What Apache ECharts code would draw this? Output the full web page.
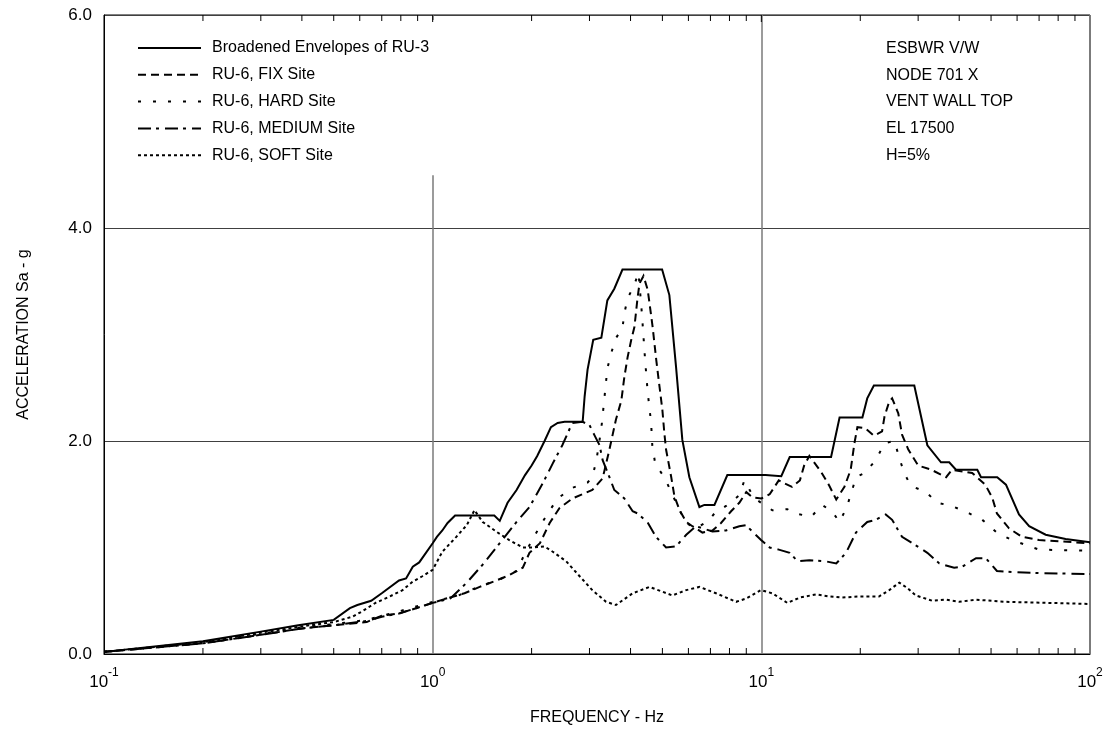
<!DOCTYPE html>
<html>
<head>
<meta charset="utf-8">
<script src="https://cdn.jsdelivr.net/npm/echarts@6/dist/echarts.min.js"></script>
<style>
html,body{margin:0;padding:0;background:#fff;}
#chart{width:1113px;height:734px;}
</style>
</head>
<body>
<div id="chart"></div>
<script>
// ---- data: [frequency Hz, acceleration g] ----
const seriesNames = ['Broadened Envelopes of RU-3','RU-6, FIX Site','RU-6, HARD Site','RU-6, MEDIUM Site','RU-6, SOFT Site'];

const envelopePts = [[0.1,0.02],[0.2,0.12],[0.3,0.21],[0.39,0.27],[0.5,0.32],[0.56,0.43],[0.59,0.46],[0.65,0.50],[0.70,0.57],[0.79,0.69],[0.83,0.71],[0.87,0.82],[0.91,0.86],[1.0,1.04],[1.03,1.10],[1.07,1.16],[1.11,1.23],[1.17,1.30],[1.54,1.30],[1.60,1.25],[1.69,1.42],[1.80,1.54],[1.91,1.68],[2.0,1.77],[2.08,1.86],[2.19,2.00],[2.29,2.13],[2.40,2.17],[2.52,2.18],[2.86,2.18],[2.90,2.42],[2.96,2.67],[3.08,2.95],[3.26,2.97],[3.40,3.32],[3.57,3.43],[3.78,3.61],[4.99,3.61],[5.25,3.37],[5.5,2.70],[5.75,2.01],[6.04,1.66],[6.48,1.38],[6.71,1.40],[7.2,1.40],[7.88,1.68],[10.3,1.68],[11.5,1.67],[12.2,1.85],[16.3,1.85],[17.3,2.22],[20.3,2.22],[21.0,2.40],[22.0,2.52],[29.2,2.52],[32.0,1.96],[35.2,1.80],[37.3,1.80],[39.1,1.73],[45.4,1.73],[46.6,1.66],[52.2,1.66],[55.5,1.59],[60.8,1.31],[65.3,1.20],[73.3,1.12],[84.3,1.08],[100,1.05]];

const fixPts = [[0.1,0.02],[0.2,0.10],[0.3,0.18],[0.4,0.24],[0.5,0.27],[0.63,0.30],[0.7,0.36],[0.79,0.38],[0.89,0.43],[1.0,0.48],[1.1,0.52],[1.25,0.57],[1.39,0.63],[1.56,0.69],[1.71,0.74],[1.88,0.81],[1.97,0.95],[2.12,1.04],[2.27,1.23],[2.43,1.37],[2.66,1.46],[3.06,1.54],[3.29,1.65],[3.45,1.92],[3.61,2.20],[3.75,2.38],[3.83,2.60],[3.92,2.79],[4.02,2.95],[4.11,3.07],[4.20,3.34],[4.26,3.48],[4.38,3.55],[4.51,3.42],[4.57,3.29],[4.67,3.07],[4.79,2.76],[4.90,2.51],[5.0,2.29],[5.07,2.07],[5.13,1.92],[5.32,1.66],[5.44,1.48],[5.64,1.35],[5.91,1.24],[6.17,1.20],[6.62,1.14],[7.10,1.16],[7.54,1.23],[8.09,1.34],[8.57,1.42],[9.0,1.52],[9.4,1.47],[10.0,1.46],[10.6,1.50],[11.3,1.63],[11.8,1.60],[12.4,1.57],[13.1,1.63],[13.5,1.77],[14.0,1.86],[15.2,1.71],[16.1,1.58],[16.9,1.45],[17.9,1.57],[18.7,1.73],[19.2,1.98],[19.6,2.13],[20.7,2.12],[22.0,2.05],[23.3,2.09],[23.7,2.23],[24.5,2.37],[25.0,2.40],[26.1,2.26],[26.8,2.06],[28.0,1.92],[30.0,1.77],[32.9,1.73],[36.5,1.66],[38.0,1.73],[43.8,1.70],[48.0,1.59],[50.4,1.47],[52.1,1.32],[56.7,1.18],[62.1,1.10],[70.0,1.07],[100,1.04]];

const hardPts = [[0.1,0.02],[0.2,0.11],[0.3,0.19],[0.4,0.25],[0.5,0.28],[0.63,0.32],[0.79,0.40],[1.0,0.49],[1.2,0.55],[1.4,0.64],[1.6,0.70],[1.8,0.78],[1.92,0.96],[2.12,1.20],[2.24,1.32],[2.40,1.46],[2.66,1.56],[2.96,1.61],[3.06,1.66],[3.15,1.82],[3.26,2.12],[3.33,2.40],[3.40,2.68],[3.49,2.82],[3.60,2.96],[3.78,3.06],[3.83,3.20],[3.92,3.34],[4.10,3.46],[4.23,3.58],[4.33,3.20],[4.43,2.76],[4.51,2.46],[4.62,2.17],[4.66,1.95],[4.76,1.78],[5.07,1.66],[5.32,1.52],[5.64,1.35],[5.90,1.23],[6.33,1.18],[6.9,1.25],[7.2,1.32],[7.81,1.39],[8.57,1.49],[8.88,1.63],[9.33,1.51],[9.66,1.45],[10.8,1.35],[12.0,1.36],[12.6,1.32],[14.2,1.29],[15.3,1.40],[16.4,1.34],[17.3,1.24],[18.2,1.38],[18.9,1.54],[19.4,1.66],[20.6,1.70],[22.3,1.82],[23.7,1.98],[25.4,2.00],[26.3,1.84],[27.2,1.70],[28.5,1.58],[31.7,1.52],[34.3,1.42],[38.0,1.39],[42.9,1.32],[47.0,1.26],[52.1,1.14],[57.9,1.07],[70,0.98],[100,0.97]];

const mediumPts = [[0.1,0.02],[0.2,0.10],[0.3,0.18],[0.4,0.24],[0.5,0.27],[0.63,0.31],[0.7,0.35],[0.79,0.38],[0.89,0.43],[1.0,0.48],[1.13,0.52],[1.27,0.67],[1.42,0.84],[1.60,1.04],[1.80,1.24],[1.97,1.38],[2.16,1.60],[2.32,1.79],[2.48,1.96],[2.66,2.17],[2.86,2.18],[3.0,2.15],[3.10,2.06],[3.22,1.96],[3.29,1.82],[3.45,1.66],[3.57,1.54],[3.83,1.46],[4.06,1.34],[4.20,1.32],[4.50,1.24],[4.78,1.10],[5.13,1.00],[5.50,1.01],[5.91,1.12],[6.33,1.20],[7.10,1.15],[7.81,1.16],[8.57,1.20],[8.98,1.21],[9.39,1.15],[9.98,1.07],[10.6,1.00],[11.3,0.98],[12.2,0.95],[12.9,0.87],[14.0,0.88],[15.7,0.87],[16.9,0.85],[18.1,0.95],[19.4,1.14],[21.0,1.24],[22.3,1.26],[23.9,1.31],[25.0,1.26],[26.8,1.10],[29.5,1.02],[32.0,0.95],[34.8,0.85],[38.6,0.81],[40.9,0.82],[45.0,0.90],[48.2,0.90],[52.1,0.78],[57.9,0.77],[70,0.76],[100,0.75]];

const softPts = [[0.1,0.02],[0.2,0.11],[0.3,0.20],[0.4,0.26],[0.5,0.30],[0.57,0.35],[0.61,0.40],[0.67,0.48],[0.74,0.54],[0.81,0.60],[0.87,0.68],[0.93,0.73],[1.0,0.79],[1.07,0.96],[1.18,1.10],[1.27,1.21],[1.34,1.35],[1.42,1.24],[1.56,1.15],[1.71,1.07],[1.88,1.00],[2.01,1.00],[2.19,1.01],[2.32,0.96],[2.55,0.87],[2.80,0.73],[3.06,0.60],[3.37,0.49],[3.61,0.46],[4.06,0.57],[4.57,0.63],[4.95,0.59],[5.36,0.55],[5.91,0.60],[6.48,0.63],[7.28,0.57],[8.38,0.49],[8.98,0.52],[9.98,0.60],[10.8,0.57],[12.0,0.48],[13.1,0.53],[14.7,0.56],[16.1,0.54],[17.6,0.53],[19.9,0.54],[22.8,0.54],[24.5,0.60],[26.3,0.67],[27.8,0.62],[29.5,0.55],[33.1,0.50],[36.4,0.51],[40.0,0.49],[45.0,0.51],[55.5,0.49],[100,0.47]];

const xTickExponents = {'-1':'-1','0':'0','1':'1','2':'2'};
const yTicks = [0, 2, 4, 6];
const minorTicks = [0.2,0.3,0.4,0.5,0.6,0.7,0.8,0.9,2,3,4,5,6,7,8,9,20,30,40,50,60,70,80,90];
const majorTopTicks = [1, 10];
const noteLines = ['ESBWR V/W','NODE 701 X','VENT WALL TOP','EL 17500','H=5%'];

const FONT = 'Liberation Sans, Arial, sans-serif';
const dashes = [null, [8,5], [3,12], [13,5,3,6], [3,3]];
const ptsList = [envelopePts, fixPts, hardPts, mediumPts, softPts];

const chart = echarts.init(document.getElementById('chart'), null, {renderer:'canvas'});

const lineSeries = ptsList.map((pts, i) => ({
  name: seriesNames[i],
  type: 'line',
  data: pts,
  symbol: 'none',
  showSymbol: false,
  animation: false,
  z: 3,
  itemStyle: {color: '#000'},
  lineStyle: {color:'#000', width: 2, type: dashes[i] || 'solid', cap: 'butt', join: 'miter'}
}));

const tickData = minorTicks.map(v => [v, 0, 6, 0]).concat(majorTopTicks.map(v => [v, 0, 7, 1]));

const tickSeries = {
  type: 'custom',
  silent: true,
  animation: false,
  z: 10,
  clip: false,
  data: tickData,
  renderItem: function (params, api) {
    const v = api.value(0);
    const len = api.value(2);
    const topOnly = api.value(3) === 1;
    const pb = api.coord([v, 0]);
    const pt = api.coord([v, 6]);
    const children = [{type:'line', shape:{x1:pt[0], y1:pt[1], x2:pt[0], y2:pt[1]+len}, style:{stroke:'#000', lineWidth:1}}];
    if (!topOnly) children.push({type:'line', shape:{x1:pb[0], y1:pb[1], x2:pb[0], y2:pb[1]-len}, style:{stroke:'#000', lineWidth:1}});
    return {type:'group', children: children};
  }
};

chart.setOption({
  animation: false,
  backgroundColor: '#fff',
  textStyle: {fontFamily: FONT, color:'#000'},
  title: {
    text: noteLines.join('\n'),
    left: 886, top: 35,
    padding: 0,
    textStyle: {fontFamily: FONT, fontSize: 16, fontWeight: 'normal', color: '#000', lineHeight: 26.8}
  },
  legend: {
    data: seriesNames,
    orient: 'vertical',
    left: 106, top: 20,
    padding: [18, 60, 10, 31],
    backgroundColor: '#fff',
    itemWidth: 63, itemHeight: 14, itemGap: 6.8,
    selectedMode: false,
    itemStyle: {opacity: 0},
    textStyle: {fontFamily: FONT, fontSize: 16, color: '#000', lineHeight: 20, padding: [0,0,0,6]}
  },
  grid: {left: 104, top: 15, width: 986, height: 639, show: true, borderColor: '#000', borderWidth: 1, backgroundColor: 'transparent'},
  xAxis: {
    type: 'log', logBase: 10, min: 0.1, max: 100,
    name: 'FREQUENCY - Hz', nameLocation: 'middle', nameGap: 56,
    nameTextStyle: {fontFamily: FONT, fontSize: 16, color:'#000'},
    axisLine: {show: true, lineStyle: {color:'#000', width: 1}},
    axisTick: {show: false},
    minorTick: {show: false},
    splitLine: {show: true, lineStyle: {color: '#7a7a7a', width: 1.5}},
    axisLabel: {
      margin: 13,
      formatter: function (v) {
        const e = String(Math.round(Math.log10(v)));
        return '{b|10}{s|' + (xTickExponents[e] || e) + '}';
      },
      rich: {
        b: {fontFamily: FONT, fontSize: 17, color:'#000', lineHeight: 24, verticalAlign: 'bottom'},
        s: {fontFamily: FONT, fontSize: 12, color:'#000', lineHeight: 12, verticalAlign: 'top'}
      }
    }
  },
  yAxis: {
    type: 'value', min: yTicks[0], max: yTicks[yTicks.length-1], interval: 2,
    name: 'ACCELERATION Sa - g', nameLocation: 'middle', nameGap: 72, nameRotate: 90,
    nameTextStyle: {fontFamily: FONT, fontSize: 16, color:'#000'},
    axisLine: {show: true, lineStyle: {color:'#000', width: 1}},
    axisTick: {show: false},
    splitLine: {show: true, lineStyle: {color: '#404040', width: 1}},
    axisLabel: {margin: 12, fontFamily: FONT, fontSize: 17, color:'#000', formatter: v => v.toFixed(1)}
  },
  series: lineSeries.concat([tickSeries])
});
</script>
</body>
</html>
